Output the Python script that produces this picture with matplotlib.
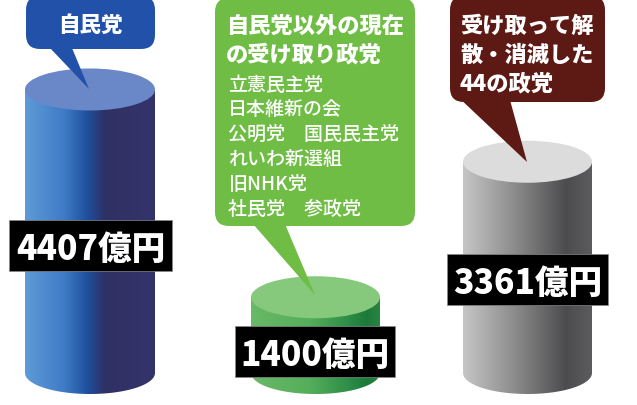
#!/usr/bin/env python3
# -*- coding: utf-8 -*-

import numpy as np
import matplotlib.pyplot as plt
from matplotlib.colors import LinearSegmentedColormap
from matplotlib.patches import Ellipse, FancyBboxPatch, Polygon

plt.switch_backend('agg')
plt.rcParams['font.family'] = ['Noto Sans CJK JP', 'DejaVu Sans']

# 金額(億円)
amounts = [4407, 1400, 3361]
amount_labels = ['4407億円', '1400億円', '3361億円']
blue_title = ['自民党']
green_title = ['自民党以外の現在', 'の受け取り政党']
green_parties = ['立憲民主党', '日本維新の会', '公明党　国民民主党', 'れいわ新選組', '旧NHK党', '社民党　参政党']
brown_title = ['受け取って解', '散・消滅した', '44の政党']

W, H = 637, 405
PX_PER_UNIT = 0.0691
ZERO_Y = 394
RY = 21

fig = plt.figure(figsize=(W / 100, H / 100), dpi=100, facecolor='white')

# 円柱は金額の軸で描く
ax = fig.add_axes([0, 0, 1, 1])
ax.set_xlim(0, W)
ax.set_ylim((ZERO_Y - H) / PX_PER_UNIT, ZERO_Y / PX_PER_UNIT)
ax.axis('off')

# 吹き出しと文字はピクセル座標
ov = fig.add_axes([0, 0, 1, 1])
ov.set_xlim(0, W)
ov.set_ylim(H, 0)
ov.axis('off')
ov.patch.set_alpha(0)


def cylinder(x0, x1, value, stops, top_color):
    cx = (x0 + x1) / 2
    rx = (x1 - x0) / 2
    ry = RY / PX_PER_UNIT
    t = np.linspace(0, np.pi, 60)
    lower = np.column_stack([cx - rx * np.cos(t), ry - ry * np.sin(t)])
    upper = [[x1, value], [x0, value]]
    body = Polygon(np.vstack([lower, upper]), closed=True, fc='none', ec='none')
    ax.add_patch(body)
    cmap = LinearSegmentedColormap.from_list('body', stops)
    grad = np.linspace(0, 1, 256).reshape(1, -1)
    im = ax.imshow(grad, cmap=cmap, extent=[x0, x1, 0, value], aspect='auto', zorder=1)
    im.set_clip_path(body)
    ax.add_patch(Ellipse((cx, value), 2 * rx, 2 * ry, fc=top_color, ec='none', zorder=2))


def bubble(x0, x1, y0, y1, tail, color):
    ov.add_patch(FancyBboxPatch((x0 + 14, y0 + 14), x1 - x0 - 28, y1 - y0 - 28,
                                boxstyle='round,pad=14', fc=color, ec='none', zorder=3))
    ov.add_patch(Polygon(tail, closed=True, fc=color, ec='none', zorder=3))


def amount_box(x0, x1, y0, y1, label):
    ov.fill([x0, x1, x1, x0], [y0, y0, y1, y1], fc='black', ec='#888888', lw=0.5, zorder=4)
    ov.text((x0 + x1) / 2, (y0 + y1) / 2, label, color='white', fontsize=24.2, fontweight='heavy',
            ha='center', va='center_baseline', zorder=5)


cylinder(25, 155, amounts[0],
         [(0, '#5f9ad8'), (0.3, '#3f7cc6'), (0.48, '#1f4f9e'), (0.62, '#2f3063'), (1, '#34346c')],
         '#6a88c8')
cylinder(251, 380, amounts[1],
         [(0, '#69b966'), (0.45, '#55ae5b'), (0.75, '#2e8f48'), (0.9, '#1d7a3a'), (1, '#2a8444')],
         '#86c87c')
cylinder(463, 592, amounts[2],
         [(0, '#c6c6c6'), (0.4, '#8c8c8c'), (0.8, '#4c4c4e'), (1, '#5c5c5e')],
         '#dcdcdc')

bubble(26, 155, -4, 49, [(50, 48), (72, 48), (89, 89)], '#2151a8')
bubble(215, 415, -2, 226, [(253, 224), (285, 224), (315, 295)], '#6fbd45')
bubble(450, 605, -4, 102, [(456, 95), (510, 100), (527, 162)], '#5d1a14')

ov.text(90, 23, blue_title[0], color='white', fontsize=15.5, fontweight='heavy',
        ha='center', va='center_baseline', zorder=5)
for text, y in zip(green_title, [24, 52]):
    ov.text(226, y, text, color='white', fontsize=16, fontweight='heavy',
            ha='left', va='center_baseline', zorder=5)
for text, y in zip(green_parties, [83, 107, 132, 157, 182, 207]):
    ov.text(228, y, text, color='white', fontsize=13.7, fontweight='medium',
            ha='left', va='center_baseline', zorder=5)
for text, y in zip(brown_title, [24, 53, 81]):
    ov.text(460, y, text, color='white', fontsize=16, fontweight='heavy',
            ha='left', va='center_baseline', zorder=5)

amount_box(9, 172, 220, 271, amount_labels[0])
amount_box(235, 395, 326, 377, amount_labels[1])
amount_box(447, 608, 254, 305, amount_labels[2])

fig.savefig('out.png', dpi=100, facecolor='white')
plt.close()
